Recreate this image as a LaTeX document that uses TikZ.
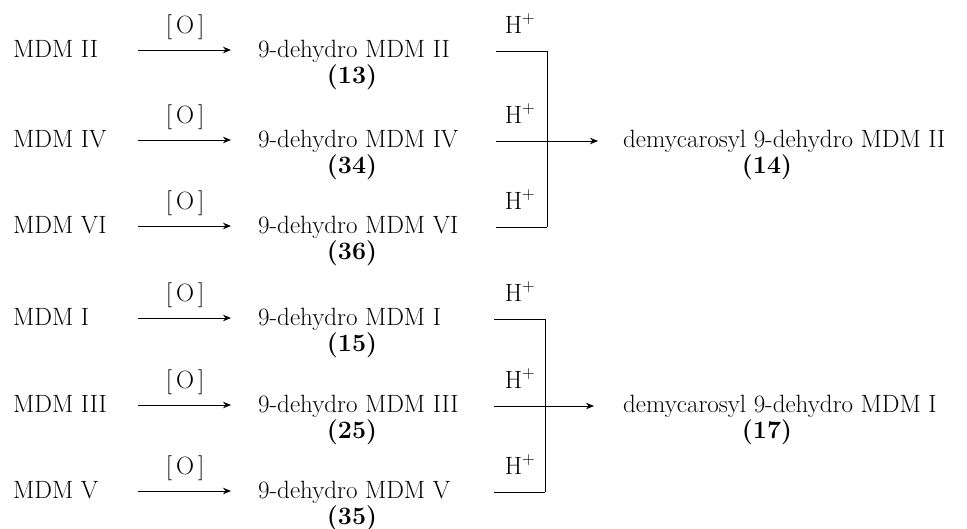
\documentclass[tikz,border=0pt]{standalone}
\usetikzlibrary{arrows.meta}
\begin{document}
\begin{tikzpicture}[x=1pt,y=-1pt,
  every node/.style={inner sep=0pt,font=\fontsize{25}{29}\selectfont},
  cmpd/.style={anchor=base west},
  numlbl/.style={anchor=base,font=\fontsize{25}{29}\selectfont\bfseries},
  reagent/.style={anchor=base},
  link/.style={line width=1pt},
  rxn/.style={line width=1pt,-{Stealth[length=8pt,width=6.5pt,inset=2.5pt]}}]
\useasboundingbox (0,0) rectangle (967,528);

% ---- row baselines ----
\def\ba{57}\def\bb{147}\def\bc{233}\def\bd{325}\def\be{412}\def\bf{498}

% ---- oxidation step: starting materials ----
\foreach \n/\b/\txt in {1/\ba/MDM II, 2/\bb/MDM IV, 3/\bc/MDM VI,
                        4/\bd/MDM I, 5/\be/MDM III, 6/\bf/MDM V}{
  \node[cmpd] (s\n) at (13,\b) {\txt};
  \coordinate (oa\n) at (138,\b-7);
  \coordinate (ob\n) at (231,\b-7);
  \draw[rxn] (oa\n) -- (ob\n);
  \node[reagent] (o\n) at (185,\b-24) {[\kern4pt O\kern4pt]};
}

% ---- 9-dehydro intermediates ----
\foreach \n/\b/\txt/\num in {1/\ba/II/13, 2/\bb/IV/34, 3/\bc/VI/36,
                             4/\bd/I/15, 5/\be/III/25, 6/\bf/V/35}{
  \node[cmpd] (m\n) at (258,\b) {9-dehydro MDM \txt};
  \node[numlbl] (n\n) at (352,\b+26) {(\num)};
  \node[reagent] (h\n) at (520,\b-24) {H\textsuperscript{+}};
}

% ---- acid treatment, upper group ----
\coordinate (ha1) at (496,\ba-6);
\coordinate (ha2) at (496,\bb-6);
\coordinate (ha3) at (496,\bc-6);
\coordinate (va1) at (547,\ba-6);
\coordinate (va2) at (547,\bb-6);
\coordinate (va3) at (547,\bc-6);
\draw[link] (ha1) -- (va1);
\draw[link] (ha2) -- (va2);
\draw[link] (ha3) -- (va3);
\draw[link] (va1) -- (va3);
\node[cmpd] (p1) at (623,\bb) {demycarosyl 9-dehydro MDM II};
\node[numlbl] (pn1) at (767,\bb+26) {(14)};
\coordinate (pa1) at (598,\bb-6);
\draw[rxn] (va2) -- (pa1);

% ---- acid treatment, lower group ----
\coordinate (ha4) at (494,\bd-6);
\coordinate (ha5) at (494,\be-6);
\coordinate (ha6) at (494,\bf-6);
\coordinate (va4) at (545,\bd-6);
\coordinate (va5) at (545,\be-6);
\coordinate (va6) at (545,\bf-6);
\draw[link] (ha4) -- (va4);
\draw[link] (ha5) -- (va5);
\draw[link] (ha6) -- (va6);
\draw[link] (va4) -- (va6);
\node[cmpd] (p2) at (623,\be) {demycarosyl 9-dehydro MDM I};
\node[numlbl] (pn2) at (767,\be+26) {(17)};
\coordinate (pa2) at (594,\be-6);
\draw[rxn] (va5) -- (pa2);
\end{tikzpicture}
\end{document}
